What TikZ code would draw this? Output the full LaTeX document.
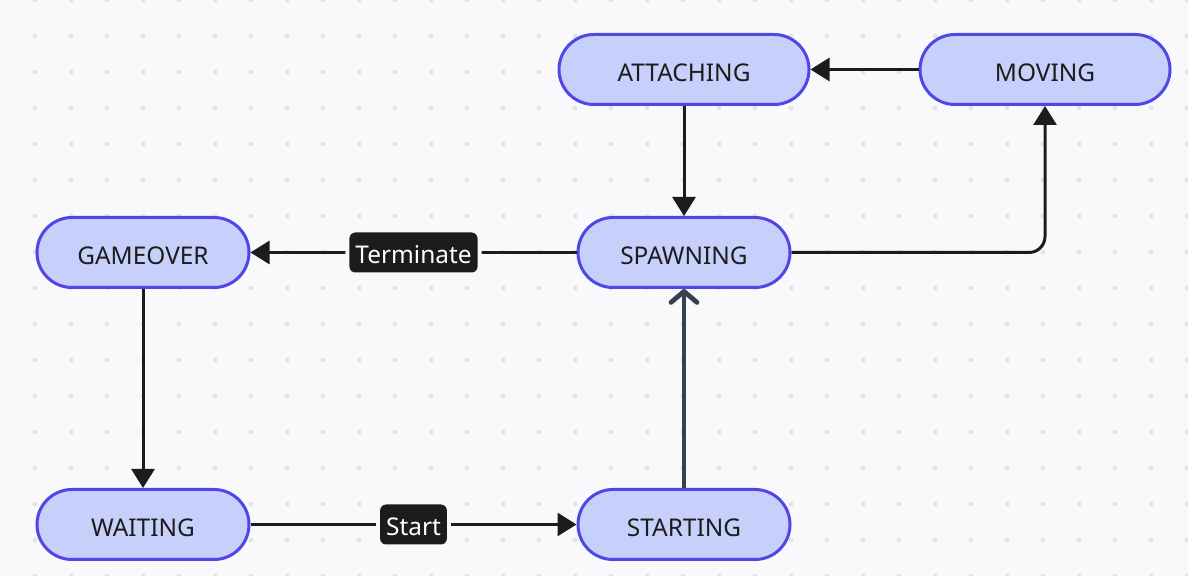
\documentclass[tikz,border=0pt]{standalone}
\usepackage{fontspec}
\setmainfont{Noto Sans}
\usepackage{tikz}
\usetikzlibrary{arrows.meta, positioning}
\definecolor{stateblue}{HTML}{C7D0FA}
\definecolor{stateedge}{HTML}{4F46E5}
\definecolor{linedark}{HTML}{1C1C1C}
\definecolor{slateline}{HTML}{374151}
\definecolor{canvasbg}{HTML}{F9F9FB}
\definecolor{griddot}{HTML}{E4E4E8}
\tikzset{
    state/.style={rectangle, rounded corners=17.5pt, draw=stateedge, fill=stateblue, line width=1.5pt, minimum width=106pt, minimum height=35pt, text height=11.6pt, text depth=0pt, text=linedark, font=\fontsize{12.2}{14}\selectfont},
    widestate/.style={state, minimum width=125pt},
    arrow/.style={draw=linedark, line width=1.5pt, -{Triangle[length=9.5pt, width=11.5pt]}},
    startarrow/.style={draw=slateline, line width=2.4pt, -{Straight Barb[round, length=5.5pt, width=13pt]}},
    tag/.style={rectangle, rounded corners=3pt, fill=linedark, text=white, inner xsep=3pt, inner ysep=0pt, minimum height=20pt, text height=11.4pt, text depth=0pt, font=\fontsize{12.2}{14}\selectfont, preaction={draw=canvasbg, line width=4pt}}
}
\begin{document}
\begin{tikzpicture}
    % canvas with dot grid
    \fill[canvasbg] (0,0) rectangle (594pt,-288pt);
    \useasboundingbox (0,0) rectangle (594pt,-288pt);
    \foreach \i in {0,...,32}
        \foreach \j in {0,...,16}
            \fill[griddot] (17.5pt+\i*18pt, -\j*18pt) circle (1.2pt);

    \node (gameover) [state] at (71.5pt,-126.25pt) {GAMEOVER};
    \node (spawning) [state, right=163pt of gameover] {SPAWNING};
    \node (attaching) [widestate, above=55pt of spawning] {ATTACHING};
    \node (moving) [widestate, right=54pt of attaching] {MOVING};
    \node (waiting) [state, below=99.5pt of gameover] {WAITING};
    \node (starting) [state, below=99.5pt of spawning] {STARTING};

    \draw [arrow] (moving) -- (attaching);
    \draw [arrow] (attaching.south) -- (attaching.south |- spawning.north);
    \draw [arrow] (spawning) -- node [tag] {Terminate} (gameover);
    \draw [arrow, rounded corners=8pt] (spawning.east) -| (moving.south);
    \draw [arrow] (gameover) -- (waiting);
    \draw [arrow] (waiting) -- node [tag] {Start} (starting);
    \draw [startarrow] (starting) -- (spawning);
\end{tikzpicture}
\end{document}
